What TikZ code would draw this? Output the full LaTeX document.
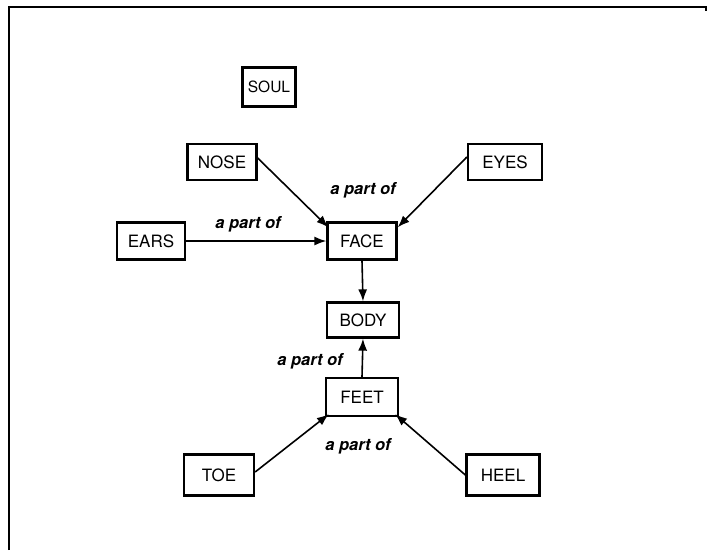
\documentclass[tikz,border=0pt]{standalone}
\usepackage{fontspec}
\setmainfont{TeX Gyre Heros}
\usetikzlibrary{arrows.meta}
\begin{document}
\begin{tikzpicture}[x=1pt,y=-1pt,
  box/.style={draw,line width=2.3pt,minimum height=36pt,inner sep=0pt,font=\fontsize{17}{18}\selectfont},
  rel/.style={line width=1.6pt,-{Latex[length=12pt,width=9pt]}},
  lab/.style={font=\fontsize{16.5}{18}\selectfont\bfseries\itshape,inner sep=0pt}]
\useasboundingbox (0,0) rectangle (707,550);
\draw[line width=2.2pt] (9,550) -- (9,7) -- (706,7) -- (706,11);
\node[box,minimum width=53pt,minimum height=39pt,font=\fontsize{15.5}{17}\selectfont] (soul) at (269,87) {SOUL};
\node[box,minimum width=69pt] (nose) at (222,162) {NOSE};
\node[box,minimum width=74pt] (eyes) at (505,162) {EYES};
\node[box,minimum width=68pt,minimum height=37pt] (ears) at (151,241) {EARS};
\node[box,minimum width=69pt,minimum height=37pt] (face) at (362,241) {FACE};
\node[box,minimum width=72pt,minimum height=35pt] (body) at (363,320) {BODY};
\node[box,minimum width=72pt,minimum height=38pt] (feet) at (362,397) {FEET};
\node[box,minimum width=70pt,minimum height=41pt] (toe) at (219,475) {TOE};
\node[box,minimum width=73pt,minimum height=41pt] (heel) at (503,475) {HEEL};
\coordinate (fnw) at ([xshift=2pt,yshift=-6pt]face.north west);
\coordinate (fne) at ([xshift=0pt,yshift=-6pt]face.north east);
\coordinate (fsw) at ([xshift=4pt,yshift=3pt]feet.south west);
\coordinate (fse) at ([xshift=-4pt,yshift=3pt]feet.south east);
\draw[rel] ([yshift=4pt]nose.east) -- (fnw);
\draw[rel] ([yshift=5pt]eyes.west) -- (fne);
\draw[rel] (ears.east) -- (face.west);
\draw[rel] (face.south) -- (body.north);
\draw[rel] (feet.north) -- (body.south);
\draw[rel] ([yshift=3pt]toe.east) -- (fsw);
\draw[rel] (heel.west) -- (fse);
\node[lab] (l1) at (363,190) {a part of};
\node[lab] (l2) at (248,224) {a part of};
\node[lab] (l3) at (310,361) {a part of};
\node[lab] (l4) at (358,446) {a part of};
\end{tikzpicture}
\end{document}
